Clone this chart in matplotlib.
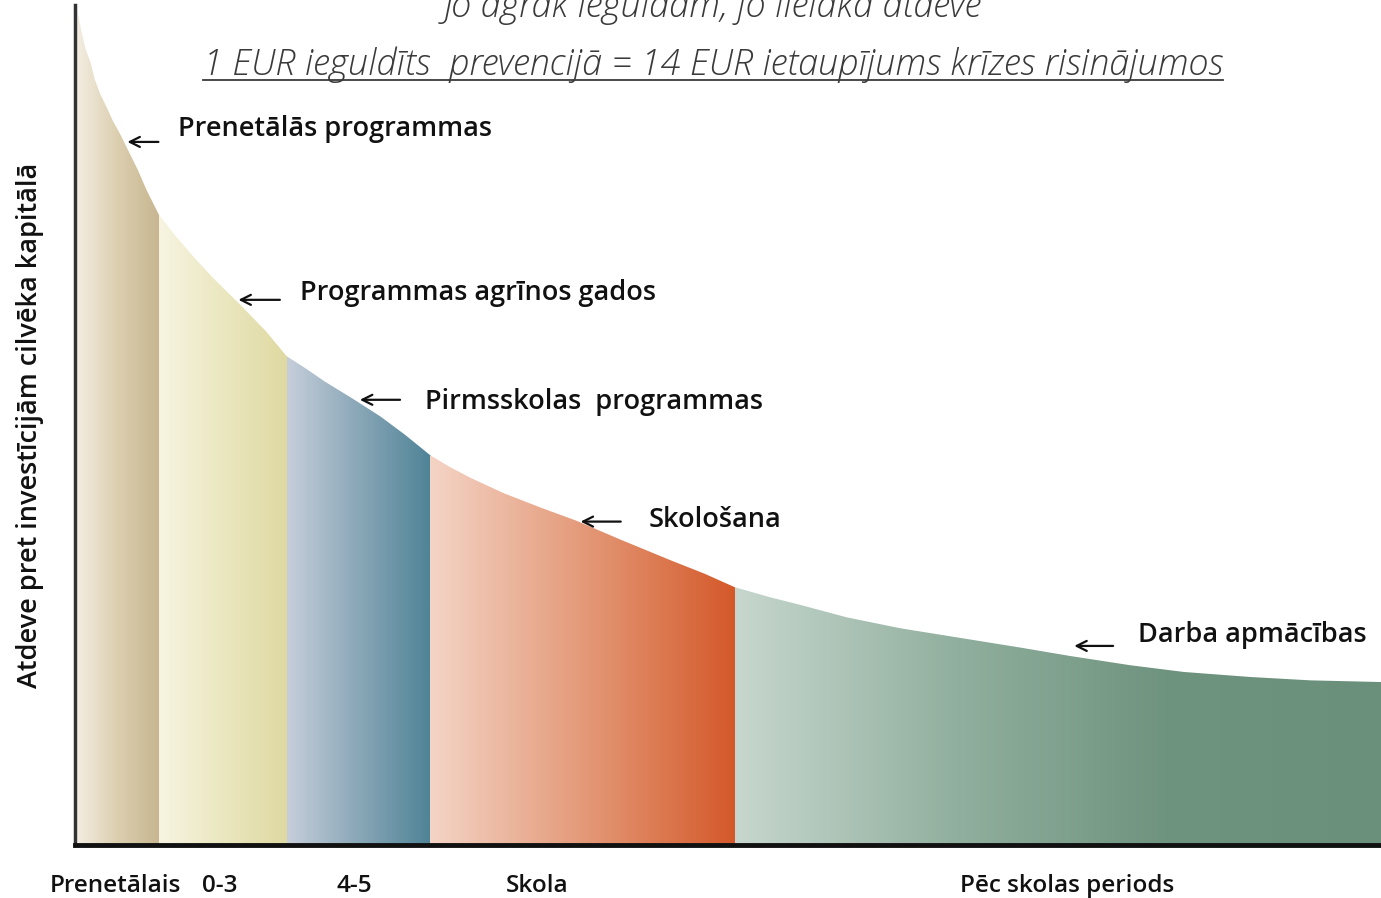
import matplotlib
matplotlib.use("Agg")
import matplotlib.pyplot as plt
import numpy as np
from matplotlib.colors import LinearSegmentedColormap
from matplotlib.patches import Polygon
from matplotlib.lines import Line2D

# atdeves līkne (nolasīta no attēla), x: 0..100, y: 0..100
curve_x = [0.2, 0.5, 0.8, 1.2, 1.5, 1.9, 2.4, 2.9, 3.5, 4.1, 4.8, 5.5, 6.4,
           7.7, 9.2, 10.7, 12.6, 14.6, 16.2,
           17.6, 19.1, 21.3, 23.4, 25.3, 27.2,
           28.7, 30.3, 32.8, 35.6, 38.4, 41.7, 45.6, 48.2, 50.5,
           53.2, 55.5, 59.1, 63.2, 68.8, 72.4, 76.2, 80.8, 84.9, 90.0, 94.6, 100.0]
curve_y = [99.2, 96.8, 94.8, 93.1, 91.2, 89.5, 87.9, 86.2, 84.5, 82.6, 80.4, 77.9, 75.1,
           72.5, 69.8, 67.3, 64.4, 61.2, 58.2,
           56.8, 55.2, 53.1, 51.0, 48.8, 46.4,
           45.0, 43.7, 41.9, 40.2, 38.6, 36.4, 33.9, 32.3, 30.7,
           29.5, 28.6, 27.1, 25.8, 24.4, 23.5, 22.5, 21.4, 20.6, 20.0, 19.6, 19.4]

# posmu robežas
seg_edges = [0.0, 6.4, 16.2, 27.2, 50.5, 100.0]
seg_labels = ["Prenetālais", "0-3", "4-5", "Skola", "Pēc skolas periods"]

programs = ["Prenetālās programmas", "Programmas agrīnos gados",
            "Pirmsskolas  programmas", "Skološana", "Darba apmācības"]

title1 = "Jo agrāk ieguldām, jo lielāka atdeve"
title2 = "1 EUR ieguldīts  prevencijā = 14 EUR ietaupījums krīzes risinājumos"
ylabel = "Atdeve pret investīcijām cilvēka kapitālā"

# krāsu pārejas katram posmam (gaišs -> tumšs)
seg_colors = [
    ["#f4efe4", "#dccfb0", "#c7b690"],
    ["#f7f4e2", "#ebe7c0", "#dfd9a1"],
    ["#c6ceda", "#89a7b7", "#4f8397"],
    ["#f4d4c6", "#e49a79", "#d4592a"],
    ["#c7d7ce", "#92b09f", "#6e937f", "#6a907c"],
]

# izkārtojums (pikseļos pārrēķināts uz datu vienībām)
tick_pos = [3.1, 11.1, 21.4, 35.4, 76.0]
arrow_tips = [(3.8, 83.7), (12.3, 64.9), (21.6, 53.0), (38.5, 38.5), (76.3, 23.7)]
arrow_len = [2.8, 3.6, 3.5, 3.5, 3.4]
text_pos = [(7.9, 84.4), (17.2, 64.9), (26.8, 51.9), (43.9, 37.9), (81.4, 24.2)]

plt.rcParams['font.family'] = ['Open Sans', 'DejaVu Sans']

W, H = 1381, 898
fig = plt.figure(figsize=(W / 100, H / 100), dpi=100)
ax = fig.add_axes([75 / W, 53 / H, 1 - 75 / W, 840 / H])
ax.set_xlim(0, 100)
ax.set_ylim(0, 100)

verts = [(curve_x[0], 0)] + list(zip(curve_x, curve_y)) + [(curve_x[-1], 0)]
area = Polygon(verts, closed=True, facecolor='none', edgecolor='none')
ax.add_patch(area)

for i in range(5):
    x0, x1 = seg_edges[i], seg_edges[i + 1]
    cmap = LinearSegmentedColormap.from_list("seg%d" % i, seg_colors[i])
    grad = np.linspace(0, 1, 256).reshape(1, -1)
    im = ax.imshow(grad, cmap=cmap, extent=(x0, x1, 0, 100), aspect='auto',
                   origin='lower', interpolation='bilinear', zorder=1)
    im.set_clip_path(area)

for tip, ln, name, tp in zip(arrow_tips, arrow_len, programs, text_pos):
    ax.annotate('', xy=tip, xytext=(tip[0] + ln, tip[1]),
                arrowprops=dict(arrowstyle='->', color='#111111', lw=1.6,
                                mutation_scale=18))
    ax.text(tp[0], tp[1], name, fontsize=19.5, fontweight='semibold',
            color='#111111', va='baseline', ha='left')

for sp in ['top', 'right']:
    ax.spines[sp].set_visible(False)
ax.spines['left'].set_linewidth(2.5)
ax.spines['left'].set_color('#333333')
ax.spines['bottom'].set_linewidth(3.5)
ax.spines['bottom'].set_color('#111111')
ax.set_yticks([])
ax.set_xticks(tick_pos)
ax.set_xticklabels(seg_labels, fontsize=17.5, fontweight='semibold', color='#111111')
ax.tick_params(axis='x', length=0, pad=21)
ax.set_ylabel(ylabel, fontsize=19.5, fontweight='semibold', color='#111111', labelpad=22)

fig.text(0.516, 1 - 17 / H, title1, ha='center', va='baseline', fontsize=26,
         fontstyle='italic', fontweight='light', color='#3a3a3a')
t2 = fig.text(0.516, 1 - 75 / H, title2, ha='center', va='baseline', fontsize=26,
              fontstyle='italic', fontweight='light', color='#3a3a3a')

fig.canvas.draw()
bb = t2.get_window_extent().transformed(fig.transFigure.inverted())
uy = 1 - 80 / H
fig.add_artist(Line2D([bb.x0, bb.x1], [uy, uy], transform=fig.transFigure,
                      color='#3a3a3a', lw=1.3))

fig.savefig("out.png", dpi=100)
